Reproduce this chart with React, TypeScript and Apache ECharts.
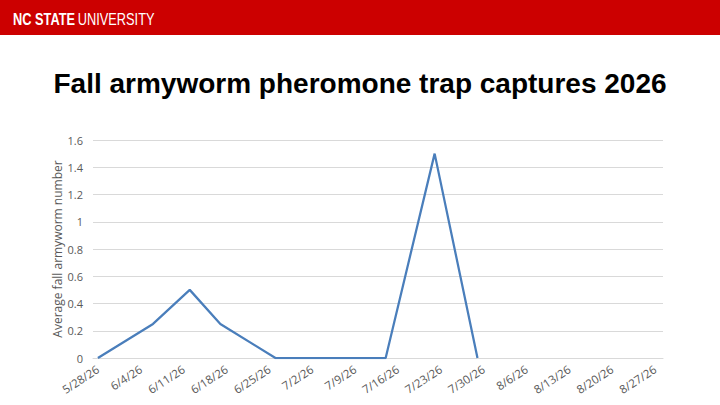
import { useEffect, useRef } from 'react'
import * as echarts from 'echarts'

// Trap dates (sampling days) and average captures per trap
const sampleDates = [
  '2026-05-28',
  '2026-06-06',
  '2026-06-12',
  '2026-06-17',
  '2026-06-26',
  '2026-07-14',
  '2026-07-22',
  '2026-07-29',
]
const captures = [0, 0.25, 0.5, 0.25, 0, 0, 1.5, 0]

// Weekly axis labels, as Excel printed them
const tickLabels = [
  '5/28/26', '6/4/26', '6/11/26', '6/18/26', '6/25/26', '7/2/26', '7/9/26',
  '7/16/26', '7/23/26', '7/30/26', '8/6/26', '8/13/26', '8/20/26', '8/27/26',
]

const TITLE = 'Fall armyworm pheromone trap captures 2026'
const Y_NAME = 'Average fall armyworm number'

const DAY = 86400000
const ORIGIN = Date.UTC(2026, 4, 28)

const COLOR = {
  red: '#CC0000',
  line: '#4A7EBB',
  grid: '#D9D9D9',
  label: '#595959',
}

const SANS = "'Liberation Sans', Arial, sans-serif"
const BODY = "'Open Sans', 'Noto Sans', sans-serif"

function isoToDay(iso: string): number {
  const [y, m, d] = iso.split('-').map(Number)
  return Math.round((Date.UTC(y, m - 1, d) - ORIGIN) / DAY)
}

function labelToDay(s: string): number {
  const [m, d, yy] = s.split('/').map(Number)
  return Math.round((Date.UTC(2000 + yy, m - 1, d) - ORIGIN) / DAY)
}

const tickDays = tickLabels.map(labelToDay)

function buildOption(): echarts.EChartsOption {
  const points = sampleDates.map((d, i) => [isoToDay(d), captures[i]])
  return {
    animation: false,
    backgroundColor: '#ffffff',
    graphic: [
      {
        type: 'rect',
        left: 0,
        top: 0,
        shape: { width: 720, height: 35 },
        style: { fill: COLOR.red },
        silent: true,
      },
      {
        // the logo face is a condensed sans; squeeze a regular one
        type: 'text',
        x: 13,
        y: 19,
        scaleX: 0.8,
        style: {
          text: '{b|NC STATE} {r|UNIVERSITY}',
          verticalAlign: 'middle',
          rich: {
            b: { fontFamily: SANS, fontWeight: 'bold', fontSize: 16, fill: '#ffffff' },
            r: { fontFamily: SANS, fontSize: 16, fill: '#ffffff' },
          },
        },
        silent: true,
      },
    ],
    title: {
      text: TITLE,
      left: 'center',
      top: 64,
      textStyle: {
        fontFamily: SANS,
        fontWeight: 'bold',
        fontSize: 28,
        color: '#000000',
      },
    },
    grid: { left: 93, right: 57, top: 140, bottom: 47 },
    xAxis: {
      type: 'value',
      min: -0.8,
      max: 92.3,
      axisLine: { lineStyle: { color: COLOR.grid, width: 1 } },
      axisTick: { show: false },
      splitLine: { show: false },
      axisLabel: {
        customValues: tickDays,
        rotate: 33,
        margin: 10,
        color: COLOR.label,
        fontFamily: BODY,
        fontSize: 11.5,
        formatter: (v: number) => {
          const i = tickDays.indexOf(Math.round(v))
          return i < 0 ? '' : tickLabels[i]
        },
      },
    },
    yAxis: {
      type: 'value',
      min: 0,
      max: 1.6,
      interval: 0.2,
      name: Y_NAME,
      nameLocation: 'middle',
      nameGap: 30,
      nameMoveOverlap: false,
      nameTextStyle: { color: COLOR.label, fontFamily: BODY, fontSize: 12 },
      axisLine: { show: false },
      axisTick: { show: false },
      axisLabel: {
        color: COLOR.label,
        fontFamily: BODY,
        fontSize: 11,
        margin: 10,
        formatter: (v: number) => String(Math.round(v * 10) / 10),
      },
      splitLine: { lineStyle: { color: COLOR.grid, width: 1 } },
    },
    series: [
      {
        type: 'line',
        data: points,
        showSymbol: false,
        lineStyle: { color: COLOR.line, width: 2.25 },
        itemStyle: { color: COLOR.line },
      },
    ],
  }
}

export default function App() {
  const ref = useRef<HTMLDivElement>(null)

  useEffect(() => {
    document.body.style.margin = '0'
    const el = ref.current
    if (!el) return
    const chart = echarts.init(el, undefined, { renderer: 'svg' })
    chart.setOption(buildOption())
    return () => chart.dispose()
  }, [])

  return <div ref={ref} style={{ width: 720, height: 405 }} />
}
